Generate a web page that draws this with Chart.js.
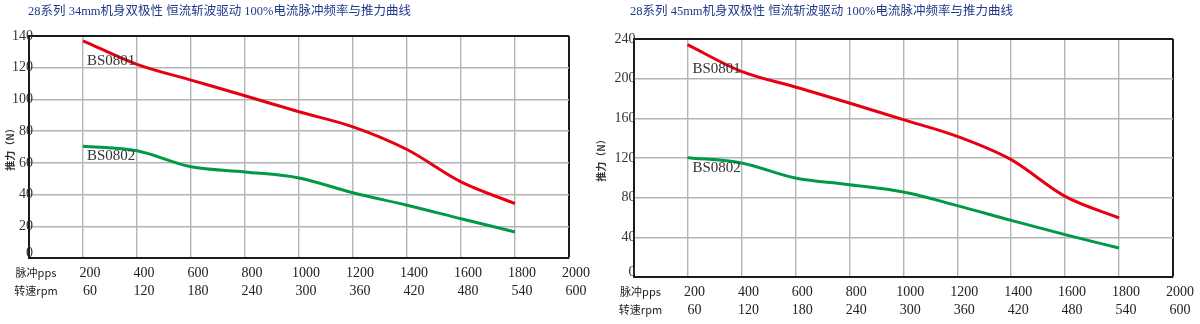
<!DOCTYPE html>
<html><head><meta charset="utf-8">
<script src="https://cdn.jsdelivr.net/npm/chart.js@4"></script>
<style>
html,body{margin:0;padding:0;background:#fff;width:1200px;height:324px;overflow:hidden;position:relative}
.box{position:absolute;top:0;height:324px}
.title{position:absolute;top:3px;font:12.5px/16px "Liberation Serif","Noto Sans CJK SC",serif;color:#22398a;white-space:nowrap;z-index:2}
</style></head><body>
<div class="box" style="left:0;width:590px"><canvas id="c1" width="590" height="324"></canvas></div>
<div class="box" style="left:590px;width:610px"><canvas id="c2" width="610" height="324"></canvas></div>
<div class="title" style="left:28px">28系列 34mm机身双极性 恒流斩波驱动 100%电流脉冲频率与推力曲线</div>
<div class="title" style="left:630px">28系列 45mm机身双极性 恒流斩波驱动 100%电流脉冲频率与推力曲线</div>
<script>
// ---- data ----
const ppsValues = [200, 400, 600, 800, 1000, 1200, 1400, 1600, 1800];
const ppsTicks = ['200', '400', '600', '800', '1000', '1200', '1400', '1600', '1800', '2000'];
const rpmTicks = ['60', '120', '180', '240', '300', '360', '420', '480', '540', '600'];
const axisRowNames = ['脉冲pps', '转速rpm'];
const yTitle = '推力（N）';
const seriesNames = ['BS0801', 'BS0802'];

const m34_BS0801 = [137, 122.1, 112.2, 102.3, 92.2, 82.7, 68.4, 48, 34.3];
const m34_BS0802 = [70.5, 67.6, 57.5, 54.3, 50.5, 41.1, 33.3, 24.8, 16.4];
const m45_BS0801 = [234.3, 207.4, 191.6, 175.5, 158.7, 141.8, 118.3, 81.3, 59.5];
const m45_BS0802 = [120.3, 115, 99.8, 93.1, 85.7, 72, 57.1, 42.7, 29.2];

const m34_yTicks = [0, 20, 40, 60, 80, 100, 120, 140];
const m45_yTicks = [0, 40, 80, 120, 160, 200, 240];
// where the series name text sits (in value units)
const m34_nameAt = [124.2, 64.3];
const m45_nameAt = [209.7, 109.4];

// ---- styles ----
const RED = '#e60012', GREEN = '#009944';
const SERIF = '"Liberation Serif", "Times New Roman", serif';
const CJK = '"Noto Sans CJK SC", sans-serif';

const nameLabels = {
  id: 'nameLabels',
  afterDatasetsDraw(chart, args, opts) {
    const {ctx, scales: {x, y}} = chart;
    ctx.save();
    ctx.font = '15px ' + SERIF;
    ctx.fillStyle = '#333';
    ctx.textAlign = 'left';
    ctx.textBaseline = 'middle';
    opts.items.forEach(it => ctx.fillText(it.text, x.getPixelForValue(it.x) + opts.dx, y.getPixelForValue(it.y)));
    ctx.restore();
  }
};

function pts(vals) { return vals.map((v, i) => ({x: ppsValues[i], y: v})); }

function makeChart(id, c) {
  const yMax = c.yTicks[c.yTicks.length - 1];
  const yStep = c.yTicks[1] - c.yTicks[0];
  const canvas = document.getElementById(id);
  new Chart(canvas, {
    type: 'line',
    data: {
      datasets: [
        {label: seriesNames[0], data: pts(c.red), borderColor: RED, borderWidth: 3, pointRadius: 0, cubicInterpolationMode: 'monotone', fill: false},
        {label: seriesNames[1], data: pts(c.green), borderColor: GREEN, borderWidth: 3, pointRadius: 0, cubicInterpolationMode: 'monotone', fill: false}
      ]
    },
    plugins: [nameLabels],
    options: {
      responsive: false,
      animation: false,
      devicePixelRatio: 1,
      layout: {padding: {top: c.top, right: canvas.width - c.right, left: 0, bottom: 0}},
      plugins: {
        legend: {display: false},
        tooltip: {enabled: false},
        nameLabels: {dx: c.dx, items: [
          {text: seriesNames[0], x: ppsValues[0], y: c.nameAt[0]},
          {text: seriesNames[1], x: ppsValues[0], y: c.nameAt[1]}
        ]}
      },
      scales: {
        x: {
          type: 'linear', min: 0, max: 2000,
          afterFit: s => { s.height = 324 - c.bottom; },
          border: {color: '#1a1a1a', width: 2},
          grid: {
            drawTicks: false,
            color: ctx => ctx.tick && ctx.tick.value === 2000 ? '#1a1a1a' : '#b5b5b5',
            lineWidth: ctx => ctx.tick && ctx.tick.value === 2000 ? 2 : 1.4
          },
          ticks: {
            stepSize: 200, autoSkip: false, maxRotation: 0, minRotation: 0,
            padding: 6, labelOffset: 7, color: '#222',
            font: ctx => (ctx.tick && ctx.tick.value === 0)
              ? {family: CJK, size: 11, lineHeight: '18px'}
              : {family: SERIF, size: 14, lineHeight: '18px'},
            callback: v => {
              if (v === 0) return axisRowNames;
              const i = v / 200 - 1;
              return [ppsTicks[i], rpmTicks[i]];
            }
          }
        },
        y: {
          min: 0, max: yMax,
          afterFit: s => { s.width = c.left; },
          border: {color: '#1a1a1a', width: 2},
          grid: {
            drawTicks: false,
            color: ctx => ctx.tick && ctx.tick.value === yMax ? '#1a1a1a' : '#b5b5b5',
            lineWidth: ctx => ctx.tick && ctx.tick.value === yMax ? 2 : 1.4
          },
          title: {display: true, text: yTitle, color: '#333', font: {family: CJK, size: 10, weight: 'bold', lineHeight: 1.2}, padding: {top: c.titlePad, bottom: 0}},
          ticks: {
            stepSize: yStep, mirror: true, crossAlign: 'far', padding: c.tickPad, color: '#333',
            font: ctx => (ctx.tick && ctx.tick.value === 0)
              ? {family: SERIF, size: 14, lineHeight: '9px'}
              : {family: SERIF, size: 14},
            callback: v => v === 0 ? [String(v), ''] : String(v)
          }
        }
      }
    }
  });
}

makeChart('c1', {red: m34_BS0801, green: m34_BS0802, yTicks: m34_yTicks, nameAt: m34_nameAt,
  left: 29, right: 569, top: 36, bottom: 258, titlePad: 4, tickPad: -17, dx: 4});
makeChart('c2', {red: m45_BS0801, green: m45_BS0802, yTicks: m45_yTicks, nameAt: m45_nameAt,
  left: 43.5, right: 583, top: 39, bottom: 277, titlePad: 5.7, tickPad: -19, dx: 5});
</script>
</body></html>
